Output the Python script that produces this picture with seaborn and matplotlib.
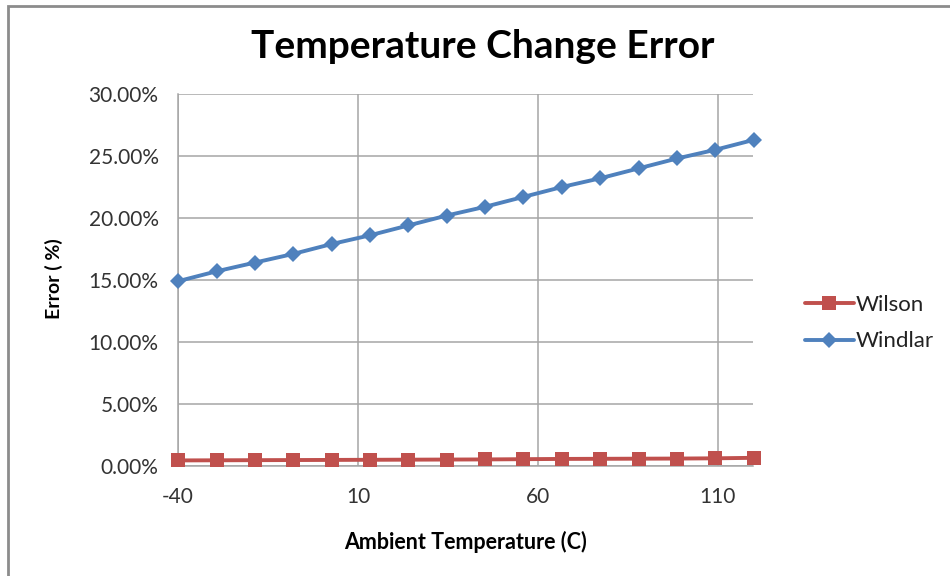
import matplotlib
matplotlib.use("Agg")
import matplotlib.pyplot as plt
import seaborn as sns
import pandas as pd
from matplotlib.patches import Rectangle
from matplotlib.ticker import FuncFormatter

temperature = [-40, -29.3, -18.7, -8, 2.7, 13.3, 24, 34.7, 45.3, 56, 66.7, 77.3, 88, 98.7, 109.3, 120]
wilson = [0.45, 0.46, 0.47, 0.48, 0.49, 0.50, 0.51, 0.52, 0.53, 0.55, 0.57, 0.58, 0.59, 0.60, 0.62, 0.66]
windlar = [14.9, 15.7, 16.4, 17.1, 17.9, 18.6, 19.4, 20.2, 20.9, 21.7, 22.5, 23.2, 24.0, 24.8, 25.5, 26.3]
series_names = ["Wilson", "Windlar"]
y_ticks = [0, 5, 10, 15, 20, 25, 30]
x_ticks = [-40, 10, 60, 110]

df = pd.concat([
    pd.DataFrame({"Temperature": temperature, "Error": wilson, "Series": series_names[0]}),
    pd.DataFrame({"Temperature": temperature, "Error": windlar, "Series": series_names[1]}),
])

sns.set_theme(style="white")
plt.rcParams["font.family"] = ["Lato", "DejaVu Sans"]
plt.rcParams["axes.unicode_minus"] = False

fig = plt.figure(figsize=(9.5, 5.76), dpi=100)
ax = fig.add_axes([178/950, 1-466/576, (753-178)/950, (466-94)/576])

palette = {"Wilson": "#C0504D", "Windlar": "#4F81BD"}
markers = {"Wilson": "s", "Windlar": "D"}
sns.lineplot(data=df, x="Temperature", y="Error", hue="Series", style="Series",
             palette=palette, markers=markers, dashes=False, linewidth=2.8,
             markersize=9, markeredgewidth=0, ax=ax, legend=True, zorder=3)
for line in ax.lines:
    line.set_clip_on(False)
    if line.get_marker() == "s":
        line.set_markersize(10.5)
    elif line.get_marker() == "D":
        line.set_markersize(8.5)

ax.set_xlim(-40, 119.8)
ax.set_ylim(0, 30)
ax.set_xticks(x_ticks)
ax.set_yticks(y_ticks)
ax.yaxis.set_major_formatter(FuncFormatter(lambda v, p: f"{v:.2f}%"))
ax.grid(True, color="#A6A6A6", linewidth=1.1)
ax.set_axisbelow(True)
for s in ["top", "right"]:
    ax.spines[s].set_visible(False)
for s in ["left", "bottom"]:
    ax.spines[s].set_color("#A6A6A6")
    ax.spines[s].set_linewidth(1.1)
ax.tick_params(axis="both", length=0, labelsize=15, colors="#333333")
ax.tick_params(axis="y", pad=14)
ax.tick_params(axis="x", pad=15)

ax.set_xlabel("Ambient Temperature (C)", fontsize=15.5, fontweight="bold", color="black")
ax.set_ylabel("Error ( %)", fontsize=14, fontweight="bold", color="black")
ax.xaxis.set_label_coords(465/950, 1-531/576, transform=fig.transFigure)
ax.yaxis.label.set_verticalalignment("center")
ax.yaxis.label.set_horizontalalignment("center")
ax.yaxis.set_label_coords(54/950, 1-279/576, transform=fig.transFigure)
fig.text(483/950, 1-46/576, "Temperature Change Error", ha="center", va="center",
         fontsize=28, fontweight="bold", color="black")

handles, labels = ax.get_legend_handles_labels()
for h in handles:
    if h.get_marker() == "s":
        h.set_markersize(10.5)
    elif h.get_marker() == "D":
        h.set_markersize(8.5)
leg = ax.legend(handles, labels, loc="center left", bbox_to_anchor=(805/950, 1-323/576),
                bbox_transform=fig.transFigure, frameon=False, fontsize=16,
                borderpad=0, borderaxespad=0,
                handlelength=2.2, handletextpad=0.1, labelspacing=0.75)
for t in leg.get_texts():
    t.set_color("#222222")

fig.patches.append(Rectangle((8/950, -0.1), 1.2, 1-6/576+0.1, transform=fig.transFigure,
                             fill=False, edgecolor="#8C8C8C", linewidth=2, clip_on=False))

fig.savefig("out.png", dpi=100)
